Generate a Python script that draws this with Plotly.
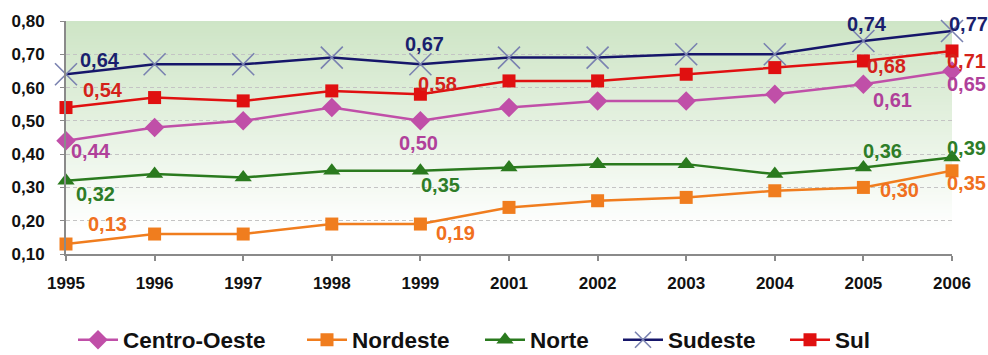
import plotly.graph_objects as go

# Categories (years) and the series values per region
years = ["1995", "1996", "1997", "1998", "1999", "2001", "2002", "2003", "2004", "2005", "2006"]

centro_oeste = [0.44, 0.48, 0.50, 0.54, 0.50, 0.54, 0.56, 0.56, 0.58, 0.61, 0.65]
nordeste = [0.13, 0.16, 0.16, 0.19, 0.19, 0.24, 0.26, 0.27, 0.29, 0.30, 0.35]
norte = [0.32, 0.34, 0.33, 0.35, 0.35, 0.36, 0.37, 0.37, 0.34, 0.36, 0.39]
sudeste = [0.64, 0.67, 0.67, 0.69, 0.67, 0.69, 0.69, 0.70, 0.70, 0.74, 0.77]
sul = [0.54, 0.57, 0.56, 0.59, 0.58, 0.62, 0.62, 0.64, 0.66, 0.68, 0.71]

y_ticks = [0.1, 0.2, 0.3, 0.4, 0.5, 0.6, 0.7, 0.8]
y_tick_labels = ["0,10", "0,20", "0,30", "0,40", "0,50", "0,60", "0,70", "0,80"]

FONT = "Liberation Sans, Arial, sans-serif"

series = [
    dict(name="Centro-Oeste", values=centro_oeste, line="#c04fa8", text="#b0409a",
         marker=dict(symbol="diamond", size=15, color="#c04fa8")),
    dict(name="Nordeste", values=nordeste, line="#f07d1e", text="#f07020",
         marker=dict(symbol="square", size=13, color="#f07d1e")),
    dict(name="Norte", values=norte, line="#2a7a1e", text="#2e7d28",
         marker=dict(symbol="triangle-up", size=15, color="#2a7a1e")),
    dict(name="Sudeste", values=sudeste, line="#16166a", text="#1a1f6e",
         marker=dict(symbol="x-thin-open", size=22, color="#7a82b0",
                     line=dict(color="#7a82b0", width=1.6))),
    dict(name="Sul", values=sul, line="#e01010", text="#d4221a",
         marker=dict(symbol="square", size=13, color="#e01010")),
]

# Which years carry a value label, with the label offset (px) from its point
label_offsets = {
    "Centro-Oeste": {"1995": (25, -10), "1999": (-2, -22), "2005": (29, -16), "2006": (14, -13)},
    "Nordeste": {"1995": (41, 20), "1999": (35, -9), "2005": (36, -3), "2006": (14, -12)},
    "Norte": {"1995": (29, -13), "1999": (20, -14), "2005": (19, 16), "2006": (14, 9)},
    "Sudeste": {"1995": (34, 14), "1999": (4, 20), "2005": (4, 17), "2006": (16, 7)},
    "Sul": {"1995": (37, 18), "1999": (17, 10), "2005": (23, -5), "2006": (14, -10)},
}

# Left edge (px) of each legend entry along the bottom row
legend_x = [73, 302, 480, 618, 785]

fig = go.Figure()
annotations = []
legends = {}
for k, s in enumerate(series):
    lname = "legend" if k == 0 else f"legend{k + 1}"
    fig.add_trace(go.Scatter(
        x=years, y=s["values"], name=s["name"], mode="lines+markers",
        line=dict(color=s["line"], width=2.5),
        marker=s["marker"], cliponaxis=False, legend=lname,
    ))
    legends[lname] = dict(
        orientation="h", xref="container", yref="container",
        x=legend_x[k] / 988, y=0.042, xanchor="left", yanchor="middle",
        font=dict(family=FONT, size=22.5, color="#111111", weight="bold"),
        itemwidth=40, bgcolor="rgba(0,0,0,0)",
    )
    for yr, (dx, dy) in label_offsets[s["name"]].items():
        idx = years.index(yr)
        v = s["values"][idx]
        annotations.append(dict(
            x=idx, y=v, xref="x", yref="y", text=f"{v:.2f}".replace(".", ","),
            showarrow=False, xshift=dx, yshift=dy,
            font=dict(family=FONT, size=20, color=s["text"], weight="bold"),
        ))

# Soft green wash fading from the top of the plot area down to white:
# nested bands, each reaching the top, drawn whitest first
shapes = []
top = (206, 229, 198)
n = 70
y_low, y_high = 0.17, 0.8
for i in range(n):
    frac = i / n
    v_low = y_low + (y_high - y_low) * frac
    t = (1 - frac) ** 1.1
    c = tuple(round(top[j] + (255 - top[j]) * t) for j in range(3))
    shapes.append(dict(
        type="rect", xref="paper", yref="y", x0=0, x1=1, y0=v_low, y1=y_high,
        fillcolor=f"rgb{c}", line=dict(width=0), layer="below",
    ))

fig.update_layout(
    width=988, height=355,
    margin=dict(l=66, r=36, t=17, b=101),
    paper_bgcolor="white", plot_bgcolor="white",
    font=dict(family=FONT, color="#111111"),
    shapes=shapes,
    annotations=annotations,
    showlegend=True,
    xaxis=dict(
        type="category", range=[0, 10], showgrid=False,
        showline=True, linecolor="#8a8a8a", linewidth=2,
        ticks="outside", ticklen=5, tickcolor="#8a8a8a", tickwidth=1.5,
        ticklabelstandoff=8,
        tickfont=dict(family=FONT, size=17, color="#111111", weight="bold"),
    ),
    yaxis=dict(
        range=[0.1, 0.8], tickvals=y_ticks, ticktext=y_tick_labels,
        showgrid=True, gridcolor="#c4c4c4", griddash="4px,3px", gridwidth=1.2,
        showline=True, linecolor="#8a8a8a", linewidth=2,
        ticks="outside", ticklen=4, tickcolor="#8a8a8a",
        ticklabelstandoff=12, zeroline=False,
        tickfont=dict(family=FONT, size=17, color="#111111", weight="bold"),
    ),
    **legends,
)

fig.write_html("out.html")
